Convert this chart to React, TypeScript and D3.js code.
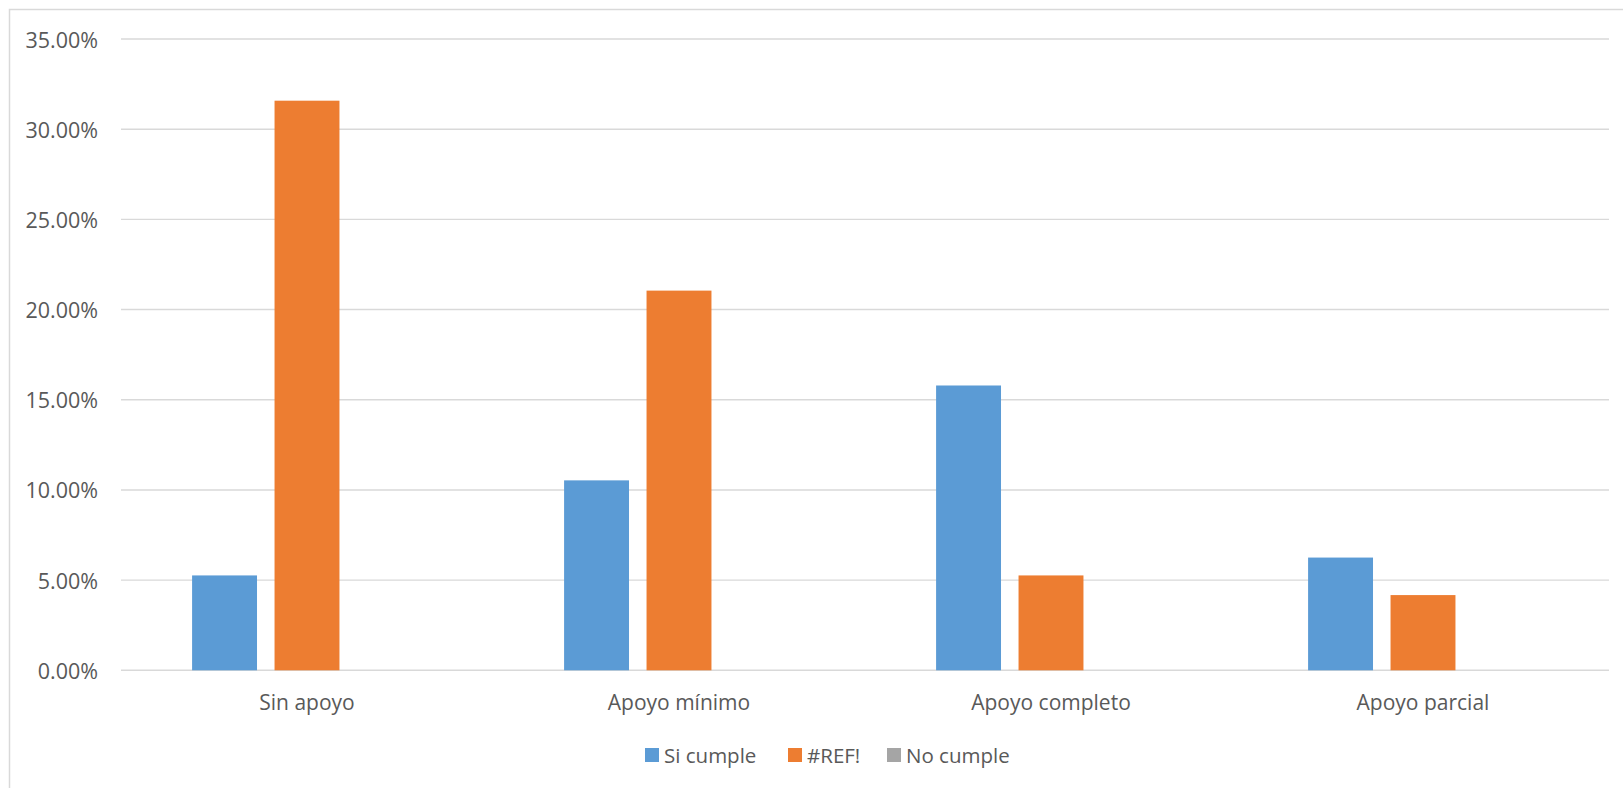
import React from "react";
import * as d3 from "d3";

const categories = ["Sin apoyo", "Apoyo mínimo", "Apoyo completo", "Apoyo parcial"];
const seriesNames = ["Si cumple", "#REF!", "No cumple"];
const siCumple = [0.0526, 0.1053, 0.1579, 0.0625];
const refErr = [0.3158, 0.2105, 0.0526, 0.0417];
const noCumple = [0, 0, 0, 0];
const seriesColors = ["#5B9BD5", "#ED7D31", "#A5A5A5"];
const yTicks = [0, 0.05, 0.1, 0.15, 0.2, 0.25, 0.3, 0.35];

const W = 1623;
const H = 788;
const FONT = "'Open Sans', sans-serif";
const TEXT = "#595959";
const GRID = "#D9D9D9";

export default function App() {
  const plotLeft = 121;
  const plotRight = 1609;
  const y = d3.scaleLinear().domain([0, 0.35]).range([670.3, 39]);
  const x0 = d3.scaleBand<string>().domain(categories).range([plotLeft, plotRight]).padding(0);
  const gapWidth = 2.19;
  const overlap = -0.27;
  const n = seriesNames.length;
  const bw = x0.bandwidth() / (n - (n - 1) * overlap + gapWidth);
  const step = bw * (1 - overlap);
  const data = [siCumple, refErr, noCumple];
  const fmt = (v: number) => (v * 100).toFixed(2) + "%";

  const legendItems = [
    { name: seriesNames[0], sx: 645, tx: 664 },
    { name: seriesNames[1], sx: 788, tx: 807 },
    { name: seriesNames[2], sx: 887, tx: 906 },
  ];

  return (
    <svg
      width={W}
      height={H}
      style={{ position: "absolute", left: 0, top: 0, background: "#fff" }}
      fontFamily={FONT}
    >
      <rect x={9.5} y={9.5} width={W + 20} height={H + 20} fill="#fff" stroke={GRID} strokeWidth={1.5} />
      {yTicks.map((t) => (
        <g key={t}>
          <line x1={plotLeft} x2={plotRight} y1={y(t)} y2={y(t)} stroke={GRID} strokeWidth={1.4} />
          <text x={98} y={y(t)} textAnchor="end" dominantBaseline="central" fontSize={21.5} fill={TEXT}>
            {fmt(t)}
          </text>
        </g>
      ))}
      {categories.map((c, i) => {
        const bx = x0(c)! + (x0.bandwidth() - (bw + (n - 1) * step)) / 2;
        return (
          <g key={c}>
            {data.map((s, j) =>
              s[i] > 0 ? (
                <rect
                  key={j}
                  x={bx + j * step}
                  y={y(s[i])}
                  width={bw}
                  height={y(0) - y(s[i])}
                  fill={seriesColors[j]}
                />
              ) : null
            )}
            <text
              x={x0(c)! + x0.bandwidth() / 2}
              y={702}
              textAnchor="middle"
              dominantBaseline="central"
              fontSize={21}
              fill={TEXT}
            >
              {c}
            </text>
          </g>
        );
      })}
      {legendItems.map((it, j) => (
        <g key={it.name}>
          <rect x={it.sx} y={748} width={14} height={14} fill={seriesColors[j]} />
          <text x={it.tx} y={755} dominantBaseline="central" fontSize={20.5} fill={TEXT}>
            {it.name}
          </text>
        </g>
      ))}
    </svg>
  );
}
